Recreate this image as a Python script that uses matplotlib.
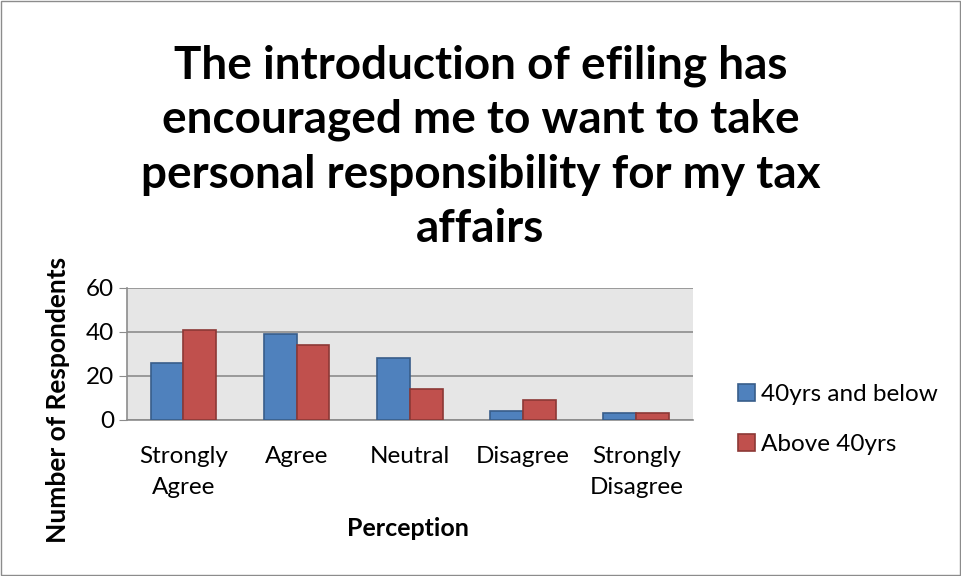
import numpy as np
import matplotlib.pyplot as plt
from matplotlib.patches import Rectangle

plt.rcParams['font.family'] = ['Lato', 'DejaVu Sans']

categories = ["Strongly\nAgree", "Agree", "Neutral", "Disagree", "Strongly\nDisagree"]
below_40 = [26, 39, 28, 4, 3]
above_40 = [41, 34, 14, 9, 3]
series_names = ["40yrs and below", "Above 40yrs"]

fig = plt.figure(figsize=(9.61, 5.76), dpi=100)
ax = fig.add_axes([0.132, 0.271, 0.589, 0.229])
ax.set_facecolor("#E6E6E6")

x = np.arange(len(categories))
w = 0.29
b1 = ax.bar(x - w / 2, below_40, w, color="#4F81BD", edgecolor="#385D8A",
            linewidth=1.2, label=series_names[0], zorder=3)
b2 = ax.bar(x + w / 2, above_40, w, color="#C0504D", edgecolor="#8C3836",
            linewidth=1.2, label=series_names[1], zorder=3)

ax.set_xlim(-0.5, len(categories) - 0.5)
ax.set_ylim(0, 60)
ax.set_yticks([0, 20, 40, 60])
ax.yaxis.grid(True, color="#8C8C8C", linewidth=1.2, zorder=1)
ax.set_xticks(x)
ax.set_xticklabels(categories, fontsize=17.5, linespacing=1.6)
ax.tick_params(axis="y", labelsize=17.5, length=6, color="#8C8C8C", pad=3)
ax.tick_params(axis="x", length=0, pad=19)
for side in ["top", "right"]:
    ax.spines[side].set_visible(False)
for side in ["left", "bottom"]:
    ax.spines[side].set_color("#8C8C8C")
    ax.spines[side].set_linewidth(1.2)

# title, four centred lines
fig.text(0.5, 0.745, "The introduction of efiling has\nencouraged me to want to take\n"
         "personal responsibility for my tax\naffairs",
         ha="center", va="center", fontsize=33, fontweight="bold", linespacing=1.36)
fig.text(0.06, 0.305, "Number of Respondents", rotation=90, ha="center", va="center",
         fontsize=19, fontweight="bold")
fig.text(0.425, 0.083, "Perception", ha="center", va="center", fontsize=18,
         fontweight="bold")

fig.legend(handles=[b1, b2], labels=series_names, loc="center left",
           bbox_to_anchor=(0.745, 0.272), frameon=False, fontsize=17.5,
           handlelength=0.7, handleheight=0.7, handletextpad=0.25, labelspacing=1.2)

fig.patches.append(Rectangle((0.001, 0.001), 0.998, 0.998, transform=fig.transFigure,
                             fill=False, edgecolor="#8C8C8C", linewidth=1))

fig.savefig("out.png", dpi=100)
